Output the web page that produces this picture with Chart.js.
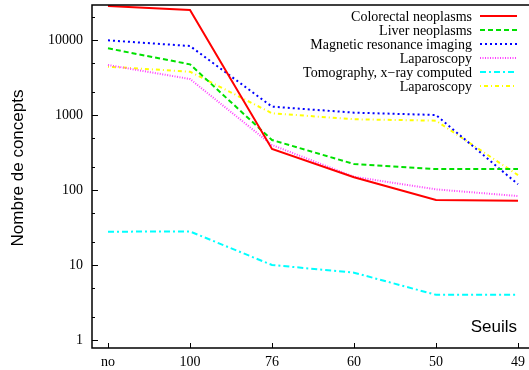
<!DOCTYPE html>
<html>
<head>
<meta charset="utf-8">
<script src="https://cdn.jsdelivr.net/npm/chart.js@4"></script>
<style>
  html, body { margin: 0; padding: 0; background: #fff; }
  #wrap { width: 529px; height: 370px; }
</style>
</head>
<body>
<div id="wrap"><canvas id="ChartLine" width="529" height="370"></canvas></div>
<script>
// seuils on the x axis
const seuils = ['no', '100', '76', '60', '50', '49'];

// number of concepts per series
const colorectal = [28400, 25100, 352, 148, 73.6, 72];
const liver = [7740, 4740, 464, 222, 190, 190];
const mri = [9900, 8320, 1292, 1075, 1000, 119];
const laparoscopy = [4640, 3020, 398, 150, 102, 83];
const tomography = [27.8, 28, 10, 7.9, 4, 4];
const laparoscopy2 = [4410, 3780, 1055, 877, 840, 158];

const yTicks = [1, 2, 5, 10, 20, 50, 100, 200, 500, 1000, 2000, 5000, 10000, 20000];
const yLabels = [1, 10, 100, 1000, 10000];

const serif = "'Liberation Serif', 'DejaVu Serif', serif";
const sans = "'Liberation Sans', Arial, sans-serif";

function toPoints(values) {
    return values.map((v, i) => ({x: i, y: v}));
}

const series = [
    {label: 'Colorectal neoplasms', data: colorectal, color: '#ff0000', dash: []},
    {label: 'Liver neoplasms', data: liver, color: '#00e000', dash: [5, 3]},
    {label: 'Magnetic resonance imaging', data: mri, color: '#0000ff', dash: [2, 3]},
    {label: 'Laparoscopy', data: laparoscopy, color: '#ff40ff', dash: [1, 1.5]},
    {label: 'Tomography, x\u2212ray computed', data: tomography, color: '#00ffff', dash: [6, 3, 2, 3]},
    {label: 'Laparoscopy', data: laparoscopy2, color: '#ffff00', dash: [1, 3, 4, 3]}
];

// frame, inward ticks, legend, axis titles, gnuplot style
// (the right side of the frame falls outside the picture)
const gnuplotFrame = {
    id: 'gnuplotFrame',
    afterDraw(chart) {
        const ctx = chart.ctx;
        const area = chart.chartArea;
        const xs = chart.scales.x;
        const ys = chart.scales.y;
        ctx.save();
        ctx.strokeStyle = '#000';
        ctx.lineWidth = 1;
        yTicks.forEach(v => {
            const y = Math.round(ys.getPixelForValue(v)) + 0.5;
            const len = yLabels.includes(v) ? 6 : 3;
            ctx.beginPath();
            ctx.moveTo(area.left, y);
            ctx.lineTo(area.left + len, y);
            ctx.stroke();
        });
        seuils.forEach((s, i) => {
            const x = Math.round(xs.getPixelForValue(i)) + 0.5;
            ctx.beginPath();
            ctx.moveTo(x, area.bottom);
            ctx.lineTo(x, area.bottom - 5);
            ctx.stroke();
        });
        ctx.lineWidth = 1.5;
        ctx.beginPath();
        ctx.moveTo(chart.width, area.top);
        ctx.lineTo(area.left, area.top);
        ctx.lineTo(area.left, area.bottom);
        ctx.lineTo(chart.width, area.bottom);
        ctx.stroke();

        // legend
        ctx.font = '14px ' + serif;
        ctx.textAlign = 'right';
        ctx.textBaseline = 'middle';
        series.forEach((s, i) => {
            const y = 16 + 14 * i;
            ctx.fillStyle = '#000';
            ctx.fillText(s.label, 472, y + 1);
            ctx.strokeStyle = s.color;
            ctx.lineWidth = 2;
            ctx.setLineDash(s.dash);
            ctx.beginPath();
            ctx.moveTo(480, y);
            ctx.lineTo(517, y);
            ctx.stroke();
        });
        ctx.setLineDash([]);

        ctx.font = '17px ' + sans;
        ctx.fillStyle = '#000';
        ctx.textBaseline = 'alphabetic';
        ctx.fillText('Seuils', 517, 332);

        ctx.translate(18.5, 168);
        ctx.rotate(-Math.PI / 2);
        ctx.textAlign = 'center';
        ctx.textBaseline = 'middle';
        ctx.fillText('Nombre de concepts', 0, 0);
        ctx.restore();
    }
};

const chartLine = document.getElementById('ChartLine');
new Chart(chartLine, {
    type: 'line',
    data: {
        datasets: series.map(s => ({
            label: s.label,
            data: toPoints(s.data),
            borderColor: s.color,
            backgroundColor: s.color,
            borderDash: s.dash,
            borderWidth: 2,
            pointRadius: 0,
            tension: 0,
            fill: false
        }))
    },
    options: {
        responsive: false,
        animation: false,
        devicePixelRatio: 1,
        layout: {padding: {top: 5, right: 0, left: 0, bottom: 0}},
        plugins: {
            legend: {display: false},
            tooltip: {enabled: false}
        },
        scales: {
            x: {
                type: 'linear',
                min: -0.195,
                max: 5.134,
                afterBuildTicks: scale => {
                    scale.ticks = seuils.map((s, i) => ({value: i}));
                },
                afterFit: scale => {
                    scale.height = 22;
                    scale.paddingLeft = 0;
                    scale.paddingRight = 0;
                },
                ticks: {
                    autoSkip: false,
                    maxRotation: 0,
                    padding: 6,
                    color: '#000',
                    font: {family: serif, size: 14},
                    callback: value => seuils[value]
                },
                grid: {display: false, drawTicks: false},
                border: {display: false}
            },
            y: {
                type: 'logarithmic',
                min: 0.782,
                max: 29300,
                afterBuildTicks: scale => {
                    scale.ticks = yTicks.map(v => ({value: v}));
                },
                afterFit: scale => {
                    scale.width = 92;
                    scale.paddingTop = 0;
                    scale.paddingBottom = 0;
                },
                ticks: {
                    autoSkip: false,
                    padding: 9,
                    color: '#000',
                    font: {family: serif, size: 14},
                    callback: value => yLabels.includes(value) ? String(value) : ''
                },
                grid: {display: false, drawTicks: false},
                border: {display: false},
                title: {display: false}
            }
        }
    },
    plugins: [gnuplotFrame]
});
</script>
</body>
</html>
